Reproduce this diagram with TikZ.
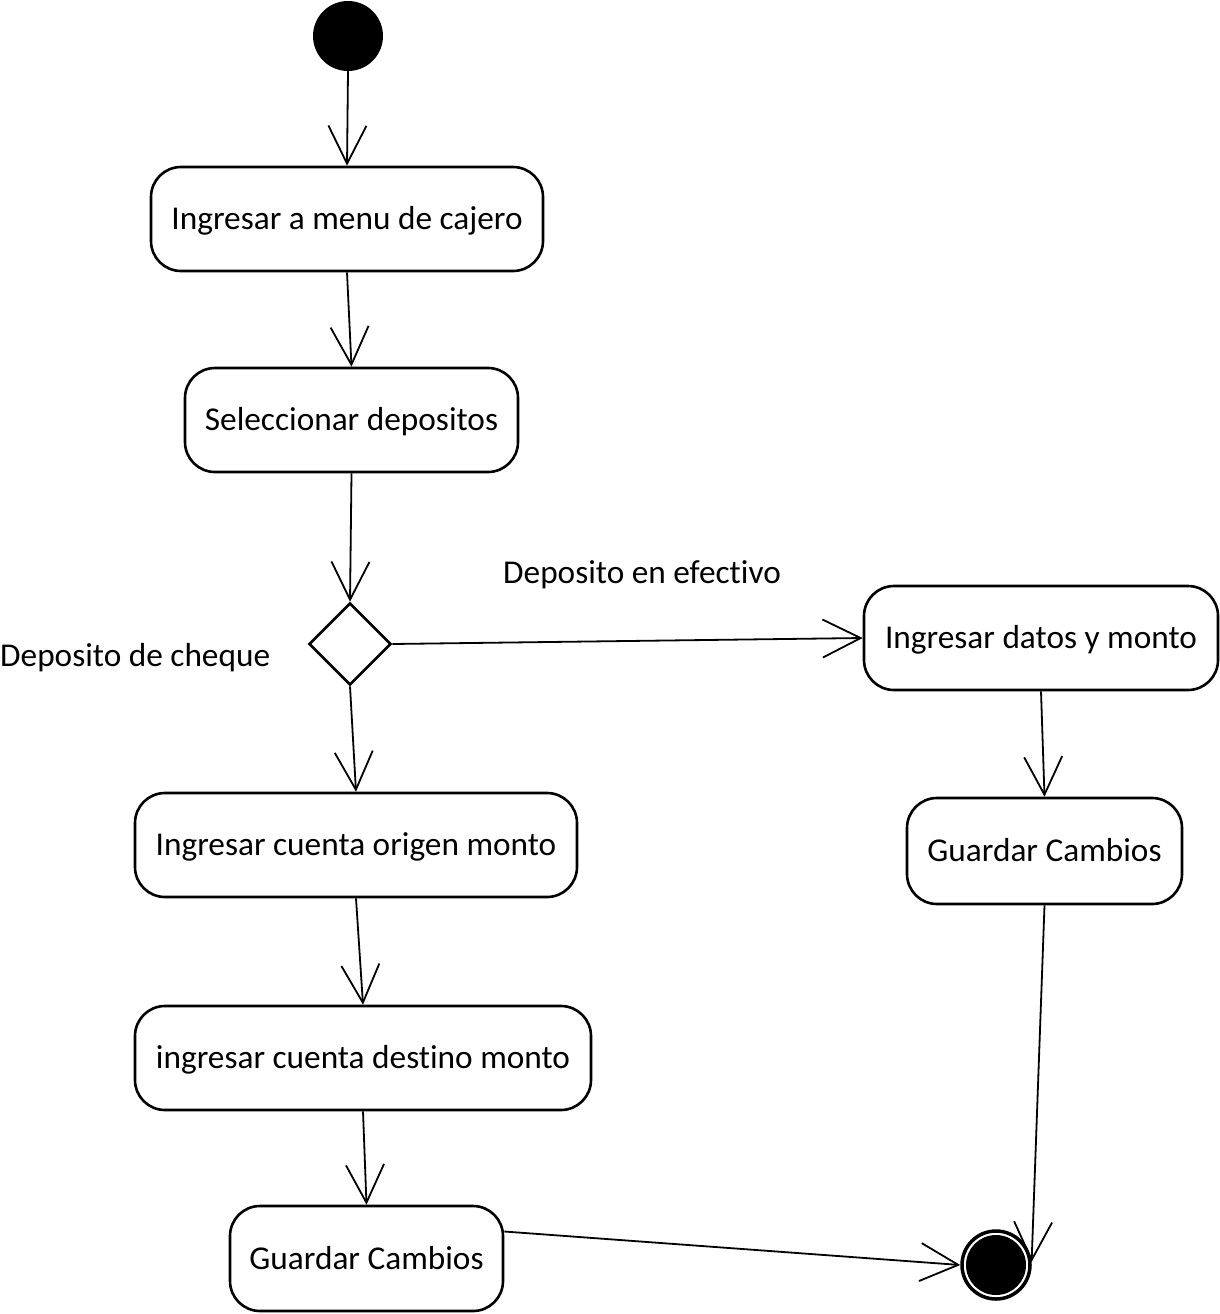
\documentclass[tikz,border=0pt]{standalone}
\usepackage{fontspec}
\setmainfont{Carlito}[Ligatures={NoCommon}]
\usetikzlibrary{shapes.geometric,arrows.meta}
\begin{document}
\begin{tikzpicture}[x=1pt,y=-1pt,
  font=\fontsize{33.3}{38}\selectfont,
  act/.style={draw,rectangle,rounded corners=30pt,line width=2.6pt,
    minimum height=104pt,inner sep=0pt,text height=28pt,text depth=6.5pt},
  flow/.style={draw,line width=1.8pt,-{Straight Barb[length=38pt,width=38pt,line width=1.8pt]}},
  lbl/.style={inner sep=0pt,text height=28pt,text depth=6.5pt}]
\useasboundingbox (0,0) rectangle (1220,1314);

% initial and final states
\node[circle,fill=black,minimum size=70pt,inner sep=0pt] (start) at (348,36) {};
\node[circle,draw,line width=3.5pt,minimum size=68pt,inner sep=0pt] (end) at (996,1265) {};
\fill (end.center) circle (30pt);

% activities
\node[act,minimum width=392pt] (menu) at (347,219) {Ingresar a menu de cajero};
\node[act,minimum width=333pt] (sel) at (351.5,420) {Seleccionar depositos};
\node[diamond,draw,line width=2.6pt,minimum width=82pt,minimum height=82pt,inner sep=0pt] (dec) at (350,644) {};
\node[act,minimum width=354pt] (datos) at (1041,638) {Ingresar datos y monto};
\node[act,minimum width=275pt,minimum height=106pt] (guardR) at (1044.5,851) {Guardar Cambios};
\node[act,minimum width=442pt] (origen) at (356,845) {Ingresar cuenta origen monto};
\node[act,minimum width=456pt] (destino) at (363,1058) {ingresar cuenta destino monto};
\node[act,minimum width=273pt,minimum height=105pt] (guardL) at (366.5,1258.5) {Guardar Cambios};

% guard labels
\node[lbl] (lefect) at (642,573) {Deposito en efectivo};
\node[lbl,anchor=west] (lcheque) at (0,656) {Deposito de cheque};

% transitions
\draw[flow] (start.south) -- (menu.north);
\draw[flow] (menu.south) -- (sel.north);
\draw[flow] (sel.south) -- (dec.north);
\draw[flow] (dec.east) -- (datos.west);
\draw[flow] (dec.south) -- (origen.north);
\draw[flow] (datos.south) -- (guardR.north);
\draw[flow] (origen.south) -- (destino.north);
\draw[flow] (destino.south) -- (guardL.north);
\draw[flow] ([yshift=27pt]guardL.east) -- (end.west);
\draw[flow] (guardR.south) -- (end.5);
\end{tikzpicture}
\end{document}
